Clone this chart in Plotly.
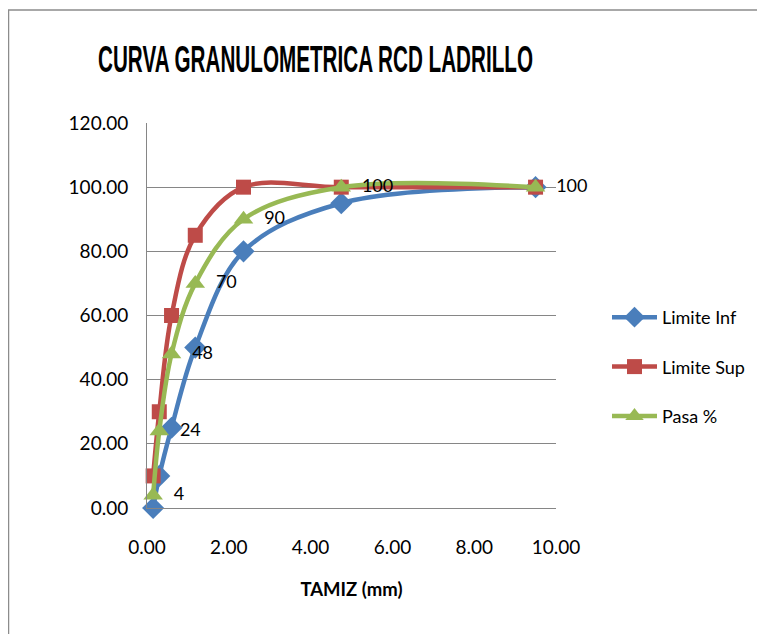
import plotly.graph_objects as go

tamiz = [0.15, 0.3, 0.6, 1.18, 2.36, 4.75, 9.5]
limite_inf = [0, 10, 25, 50, 80, 95, 100]
limite_sup = [10, 30, 60, 85, 100, 100, 100]
pasa = [4, 24, 48, 70, 90, 100, 100]
pasa_labels = ["4", "24", "48", "70", "90", "100", "100"]

FONT = "Lato"
fig = go.Figure()
fig.add_trace(go.Scatter(
    x=tamiz, y=limite_inf, name="Limite Inf", mode="lines+markers",
    line=dict(color="#4a7ebb", width=4.5, shape="spline", smoothing=1.0),
    marker=dict(symbol="diamond", size=17, color="#4a7ebb"),
    legendgroup="a", cliponaxis=False))
fig.add_trace(go.Scatter(
    x=tamiz, y=limite_sup, name="Limite Sup", mode="lines+markers",
    line=dict(color="#be4b48", width=4.5, shape="spline", smoothing=1.0),
    marker=dict(symbol="square", size=15, color="#be4b48"),
    legendgroup="b", cliponaxis=False))
fig.add_trace(go.Scatter(
    x=tamiz, y=pasa, name="Pasa %", mode="lines+markers+text",
    text=["\u2002" + s for s in pasa_labels], textposition="middle right",
    textfont=dict(family=FONT, size=18, color="black"),
    line=dict(color="#98b954", width=4.5, shape="spline", smoothing=1.0),
    marker=dict(symbol="triangle-up", size=17, color="#98b954"),
    legendgroup="c", cliponaxis=False))

W, H = 757, 626
L, R, T, B = 139, 209, 115, 126
pw, ph = W - L - R, H - T - B

fig.update_layout(
    width=W, height=H,
    margin=dict(l=L, r=R, t=T, b=B),
    paper_bgcolor="white", plot_bgcolor="white",
    font=dict(family=FONT, size=19, color="black"),
    title=dict(text="CURVA GRANULOMETRICA RCD LADRILLO",
               font=dict(family="Liberation Sans", size=30, color="black", weight="bold"),
               x=90 / W, xanchor="left", xref="container",
               y=1 - 51.5 / H, yanchor="middle", yref="container"),
    xaxis=dict(range=[0, 10], dtick=2, tickformat=".2f", showgrid=False,
               showline=True, linecolor="#868686", linewidth=1, zeroline=False,
               ticks="", tickfont=dict(size=19), ticklabelstandoff=22,
               title=dict(text="<b>TAMIZ (mm)</b>", font=dict(size=18.5), standoff=26)),
    yaxis=dict(range=[0, 120], dtick=20, tickformat=".2f", showgrid=True,
               gridcolor="#868686", gridwidth=1, showline=True, linecolor="#868686",
               linewidth=1, zeroline=False, ticks="", tickfont=dict(size=19),
               ticklabelstandoff=14),
    legend=dict(x=(599 - L) / pw, xanchor="left", y=(H - B - 359) / ph, yanchor="middle",
                font=dict(size=18), tracegroupgap=23, itemwidth=45,
                bgcolor="rgba(0,0,0,0)"),
    shapes=[dict(type="rect", xref="paper", yref="paper",
                 x0=-(L - 0.5) / pw, x1=1 + (R + 20) / pw,
                 y0=-(B + 20) / ph, y1=1 + (T - 2) / ph,
                 line=dict(color="#8c8c8c", width=1.5))],
)

post = """
var t = document.querySelector('.gtitle');
if (t) {
  t.setAttribute('textLength', '435');
  t.setAttribute('lengthAdjust', 'spacingAndGlyphs');
  var y = parseFloat(t.getAttribute('y')) || 0;
  var tr = t.getAttribute('transform') || '';
  t.setAttribute('transform', tr + ' translate(0,' + y + ') scale(1,1.22) translate(0,' + (-y) + ')');
}
"""
fig.write_html("out.html", post_script=post)
